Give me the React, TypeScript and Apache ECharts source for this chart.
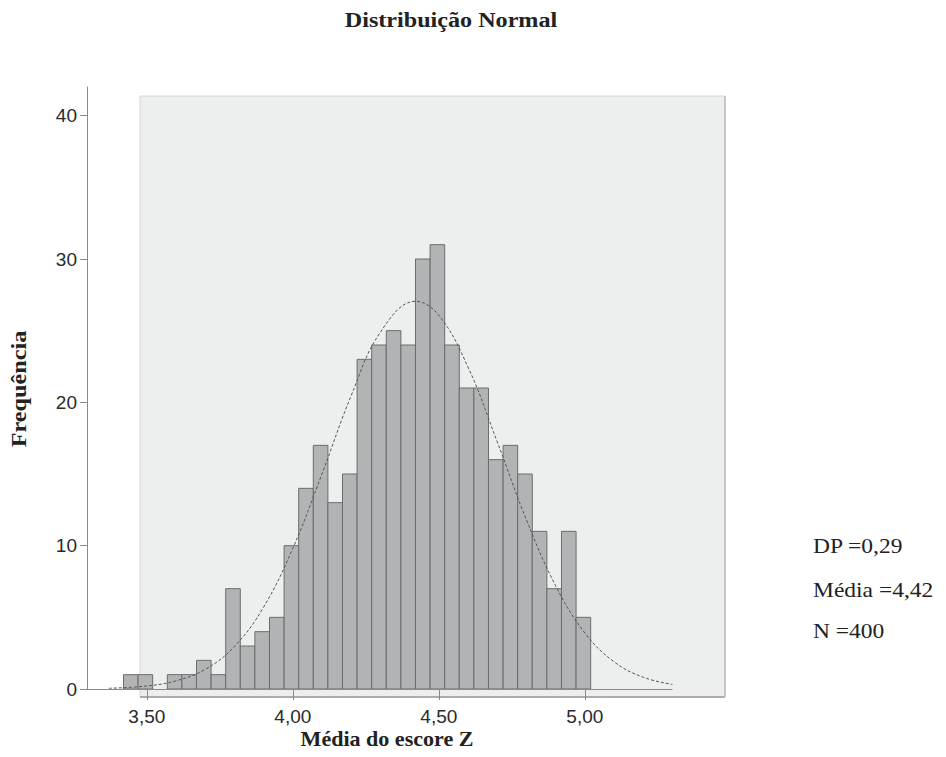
import React, { useEffect, useRef } from "react";
import * as echarts from "echarts";

// Histogram bins (left edges) and frequencies
const binLefts = [
  3.42, 3.47, 3.52, 3.57, 3.62, 3.67, 3.72, 3.77, 3.82, 3.87, 3.92, 3.97, 4.02, 4.07, 4.12, 4.17,
  4.22, 4.27, 4.32, 4.37, 4.42, 4.47, 4.52, 4.57, 4.62, 4.67, 4.72, 4.77, 4.82, 4.87, 4.92, 4.97,
];
const binWidth = 0.05;
const counts = [
  1, 1, 0, 1, 1, 2, 1, 7, 3, 4, 5, 10, 14, 17, 13, 15,
  23, 24, 25, 24, 30, 31, 24, 21, 21, 16, 17, 15, 11, 7, 11, 5,
];

// Normal curve
const curveX = [3.37, 3.5, 3.6, 3.7, 3.8, 3.9, 4.0, 4.1, 4.2, 4.3, 4.42, 4.5, 4.6, 4.7, 4.8, 4.9, 5.0, 5.1, 5.2, 5.3];
const curveY = [0.05, 0.21, 0.57, 1.37, 2.97, 5.72, 9.82, 15.02, 20.48, 24.9, 27.05, 26.07, 22.45, 17.24, 11.8, 7.2, 3.91, 1.9, 0.82, 0.32];

const xTicks = [3.5, 4.0, 4.5, 5.0];
const yTicks = [0, 10, 20, 30, 40];

const statLabels = ["DP =0,29", "Média =4,42", "N =400"];

const X_MIN = 3.295;
const X_MAX = 5.48;
const Y_MAX = 42;

export default function App() {
  const ref = useRef<HTMLDivElement>(null);

  useEffect(() => {
    if (!ref.current) return;
    const chart = echarts.init(ref.current, null, { renderer: "svg" });

    const barData = binLefts.map((l, i) => [l, l + binWidth, counts[i]]);
    const curveData = curveX.map((x, i) => [x, curveY[i]]);

    const serifFont = "'Liberation Serif', 'Times New Roman', serif";
    const sansFont = "'Liberation Sans', Arial, sans-serif";

    chart.setOption({
      animation: false,
      backgroundColor: "#ffffff",
      grid: {
        left: 87,
        right: 221,
        top: 87,
        bottom: 68,
        containLabel: false,
        outerBoundsMode: "none",
      },
      xAxis: {
        type: "value",
        min: X_MIN,
        max: X_MAX,
        axisLine: { show: false },
        splitLine: { show: false },
        axisTick: {
          show: true,
          customValues: xTicks,
          length: 11,
          lineStyle: { color: "#8a8a8a", width: 1 },
        },
        axisLabel: {
          customValues: xTicks,
          margin: 18,
          fontSize: 19,
          fontFamily: sansFont,
          color: "#2a2a2a",
          formatter: (v: number) => v.toFixed(2).replace(".", ","),
        },
      },
      yAxis: {
        type: "value",
        min: 0,
        max: Y_MAX,
        axisLine: { show: true, lineStyle: { color: "#8a8a8a", width: 1 } },
        splitLine: { show: false },
        axisTick: {
          show: true,
          customValues: yTicks,
          length: 7,
          lineStyle: { color: "#8a8a8a", width: 1 },
        },
        axisLabel: {
          customValues: yTicks,
          margin: 10,
          fontSize: 19,
          fontFamily: sansFont,
          color: "#2a2a2a",
        },
      },
      graphic: [
        {
          type: "rect",
          z: -10,
          silent: true,
          shape: { x: 140, y: 96, width: 585, height: 601 },
          style: { fill: "#edefee", stroke: "#d6d8d8", lineWidth: 1 },
        },
        {
          type: "line",
          z: -9,
          silent: true,
          shape: { x1: 140, y1: 697, x2: 725, y2: 697 },
          style: { stroke: "#9a9a9a", lineWidth: 1.5 },
        },
        {
          type: "line",
          z: -9,
          silent: true,
          shape: { x1: 725, y1: 96, x2: 725, y2: 697 },
          style: { stroke: "#c4c6c6", lineWidth: 2 },
        },
        {
          type: "text",
          x: 451,
          y: 20,
          scaleX: 1.15,
          style: {
            text: "Distribuição Normal",
            fontFamily: serifFont,
            fontWeight: "bold",
            fontSize: 21,
            fill: "#222",
            textAlign: "center",
            textVerticalAlign: "middle",
          },
        },
        {
          type: "text",
          x: 387,
          y: 739,
          scaleX: 1.05,
          style: {
            text: "Média do escore Z",
            fontFamily: serifFont,
            fontWeight: "bold",
            fontSize: 21,
            fill: "#222",
            textAlign: "center",
            textVerticalAlign: "middle",
          },
        },
        {
          type: "text",
          x: 18,
          y: 389,
          rotation: Math.PI / 2,
          scaleX: 1.1,
          style: {
            text: "Frequência",
            fontFamily: serifFont,
            fontWeight: "bold",
            fontSize: 22,
            fill: "#222",
            textAlign: "center",
            textVerticalAlign: "middle",
          },
        },
        ...statLabels.map((t, i) => ({
          type: "text",
          x: 813,
          y: [546, 590, 631][i],
          scaleX: 1.12,
          style: {
            text: t,
            fontFamily: serifFont,
            fontSize: 21,
            fill: "#222",
            textAlign: "left",
            textVerticalAlign: "middle",
          },
        })),
      ],
      series: [
        {
          type: "custom",
          name: "Frequência",
          data: barData,
          encode: { x: [0, 1], y: 2 },
          clip: false,
          renderItem: (params: any, api: any) => {
            const x0 = api.value(0);
            const x1 = api.value(1);
            const c = api.value(2);
            if (!c) return null;
            const p0 = api.coord([x0, c]);
            const p1 = api.coord([x1, 0]);
            return {
              type: "rect",
              shape: { x: p0[0], y: p0[1], width: p1[0] - p0[0], height: p1[1] - p0[1] },
              style: { fill: "#b2b3b5", stroke: "#6c6c6c", lineWidth: 1 },
            };
          },
          markLine: {
            silent: true,
            symbol: "none",
            label: { show: false },
            lineStyle: { color: "#8a8a8a", width: 1, type: "solid" },
            data: [[{ coord: [X_MIN, 0] }, { coord: [curveX[curveX.length - 1], 0] }]],
          },
        },
        {
          type: "line",
          name: "Normal",
          data: curveData,
          smooth: 0.4,
          showSymbol: false,
          symbol: "none",
          z: 5,
          lineStyle: { color: "#555", width: 1, type: [3, 2] },
        },
      ],
    });

    return () => chart.dispose();
  }, []);

  return (
    <div
      ref={ref}
      style={{ position: "fixed", left: 0, top: 0, width: 946, height: 757 }}
    />
  );
}
